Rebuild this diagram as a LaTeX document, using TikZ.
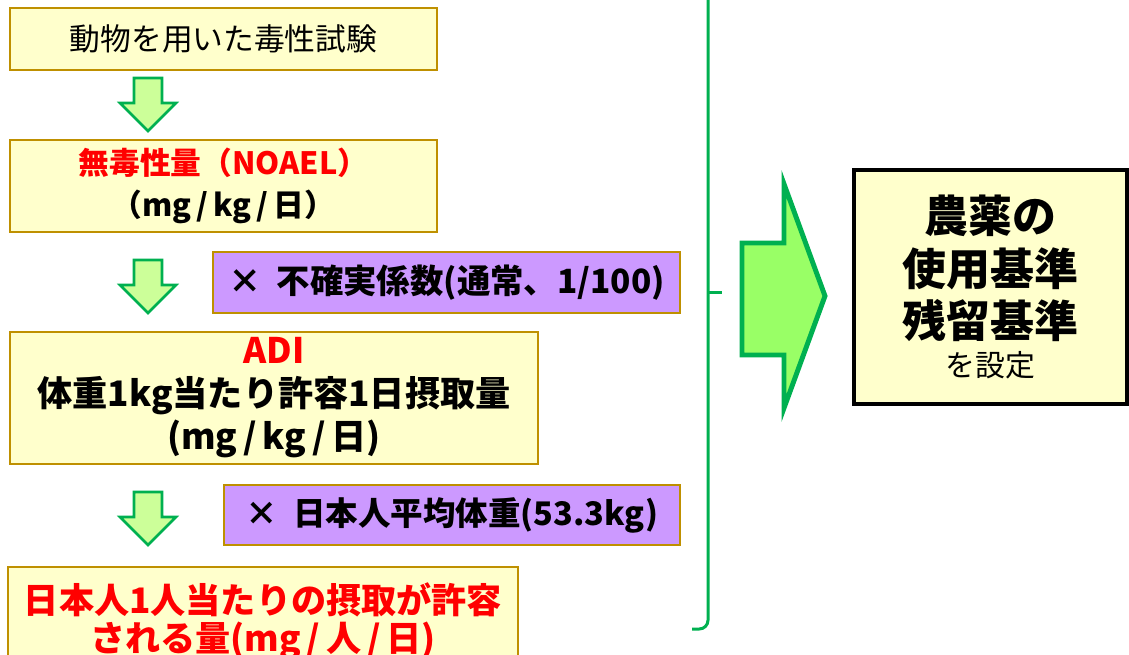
\documentclass[tikz,border=0pt]{standalone}
\usepackage{fontspec}
\setmainfont{Noto Sans CJK JP}
\usepackage{xcolor}
\usepackage{tikz}
\usetikzlibrary{positioning,calc}

\definecolor{boxfill}{RGB}{255,255,204}
\definecolor{boxedge}{RGB}{191,144,0}
\definecolor{factfill}{RGB}{204,153,255}
\definecolor{arrfill}{RGB}{204,255,153}
\definecolor{bigfill}{RGB}{153,255,102}
\definecolor{arredge}{RGB}{0,176,80}
\definecolor{redtext}{RGB}{255,0,0}

\tikzset{
    stagebox/.style={draw=boxedge, fill=boxfill, line width=1.4pt, inner sep=0pt, align=center},
    factbox/.style={draw=boxedge, fill=factfill, line width=1.4pt, inner sep=0pt, align=center},
    resultbox/.style={draw=black, fill=boxfill, line width=1.8pt, inner sep=0pt, align=center},
    downarr/.pic={
        \draw[draw=arredge, fill=arrfill, line width=1.5pt, line join=miter]
            (-14,0) -- (14,0) -- (14,25) -- (28,25) -- (0,53) -- (-28,25) -- (-14,25) -- cycle;
    }
}

\begin{document}
\begin{tikzpicture}[x=0.02cm, y=-0.02cm]
\useasboundingbox (0,0) rectangle (1129,654);
\clip (0,0) rectangle (1129,654);

    % Left column: test -> NOAEL -> ADI -> per person
    \node[stagebox, minimum width=8.54cm, minimum height=1.24cm, font=\fontsize{17.5}{22}\selectfont]
        (test) at (223.5,39) {動物を用いた毒性試験};
    \node[stagebox, minimum width=8.54cm, minimum height=1.84cm, font=\bfseries\fontsize{17.5}{24}\selectfont]
        (noael) at (223.5,186) {\textcolor{redtext}{無毒性量（NOAEL）}\\（mg\,/\,kg\,/\,日）};
    \node[stagebox, minimum width=10.56cm, minimum height=2.64cm, font=\bfseries\fontsize{20}{24.5}\selectfont]
        (adi) at (274,398) {\textcolor{redtext}{ADI}\\体重1kg当たり許容1日摂取量\\(mg\,/\,kg\,/\,日)};
    \node[stagebox, minimum width=10.2cm, minimum height=2.16cm, font=\bfseries\fontsize{20}{21.5}\selectfont, text=redtext]
        (person) at (263,621) {日本人1人当たりの摂取が許容\\される量(mg\,/\,人\,/\,日)};

    % Factors
    \node[factbox, minimum width=9.34cm, minimum height=1.22cm, font=\bfseries\fontsize{19}{22}\selectfont]
        (uncert) at (446.5,282.5) {×\ \ 不確実係数(通常、1/100)};
    \node[factbox, minimum width=9.12cm, minimum height=1.2cm, font=\bfseries\fontsize{18.5}{22}\selectfont]
        (weight) at (452,515) {×\ \ 日本人平均体重(53.3kg)};

    % Down arrows
    \pic at (148,78) {downarr};
    \pic at (148,260) {downarr};
    \pic at (148,492) {downarr};

    % Bracket
    \draw[arredge, line width=1.7pt, rounded corners=5] (708,-5) -- (708,629) -- (692,629);
    \draw[arredge, line width=1.7pt] (708,292) -- (722,292);

    % Big arrow to result
    \draw[draw=arredge, fill=bigfill, line width=2.8pt, line join=miter]
        (742,243) -- (784,243) -- (784,184) -- (825,296) -- (784,408) -- (784,355) -- (742,355) -- cycle;

    % Result
    \node[resultbox, minimum width=5.46cm, minimum height=4.68cm, font=\bfseries\fontsize{25}{30}\selectfont]
        (rule) at (990.5,287) {農薬の\\使用基準\\残留基準\\[-8pt]\mdseries\fontsize{17}{20}\selectfont を設定};
\end{tikzpicture}
\end{document}
